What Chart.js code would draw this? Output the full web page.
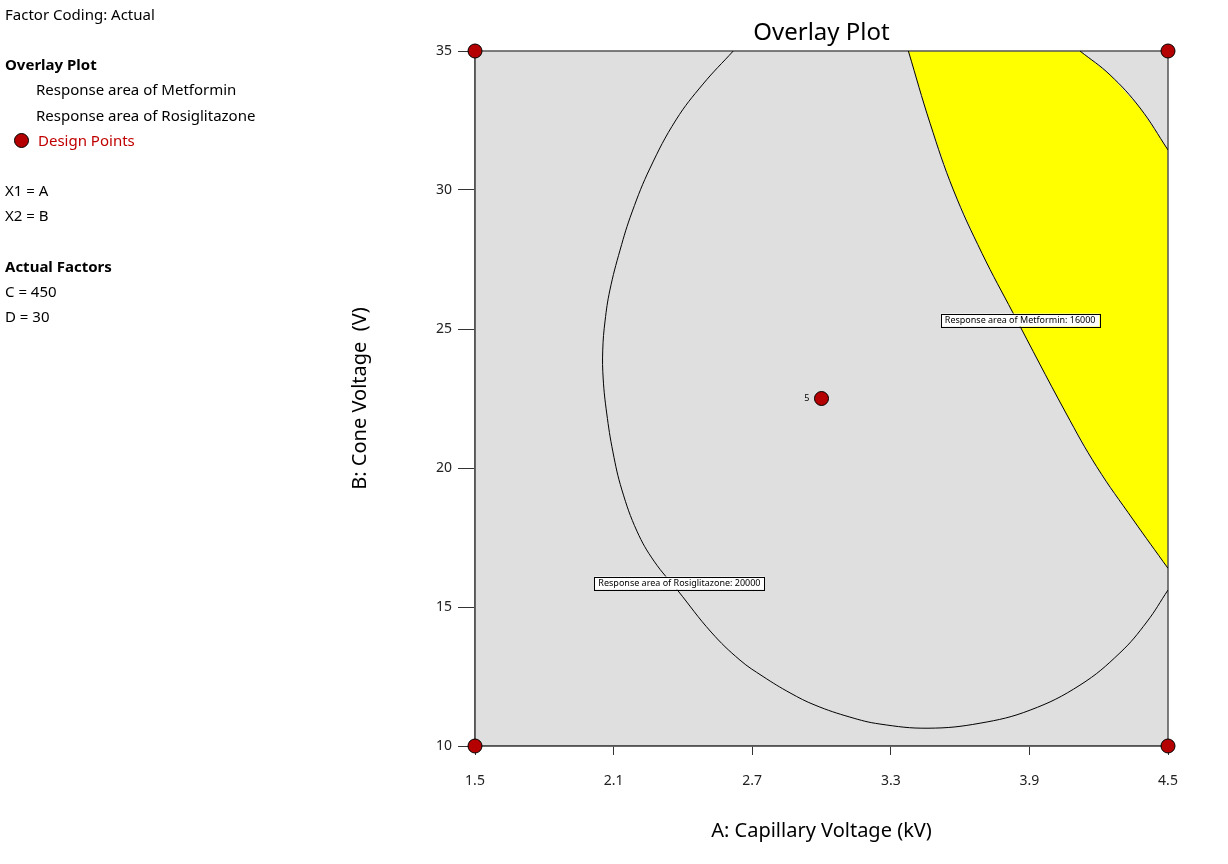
<!DOCTYPE html>
<html>
<head>
<meta charset="utf-8">
<script src="https://cdn.jsdelivr.net/npm/chart.js@4.4.1/dist/chart.umd.min.js"></script>
<style>
  html, body { margin: 0; padding: 0; background: #fff; }
  #wrap { position: relative; width: 1228px; height: 864px; }
  #plot { position: absolute; left: 0; top: 0; }
  #side { position: absolute; left: 5px; top: 2px; font-family: 'Noto Sans', sans-serif; font-size: 15px; line-height: 25.15px; color: #000; white-space: nowrap; }
  #side .b { font-weight: bold; }
  #side .ind { padding-left: 31px; }
  #side .red { color: #c00000; padding-left: 33px; position: relative; }
  #side .dot { position: absolute; left: 9px; top: 5px; width: 15px; height: 15px; border-radius: 50%; background: #b40000; border: 1px solid #000; box-sizing: border-box; }
  #side .gap { height: 25.15px; }
</style>
</head>
<body>
<div id="wrap">
  <canvas id="plot" width="1228" height="864"></canvas>
  <div id="side">
    <div>Factor Coding: Actual</div>
    <div class="gap"></div>
    <div class="b">Overlay Plot</div>
    <div class="ind">Response area of Metformin</div>
    <div class="ind">Response area of Rosiglitazone</div>
    <div class="red"><span class="dot"></span>Design Points</div>
    <div class="gap"></div>
    <div>X1 = A</div>
    <div>X2 = B</div>
    <div class="gap"></div>
    <div class="b">Actual Factors</div>
    <div>C = 450</div>
    <div>D = 30</div>
  </div>
</div>
<script>
var xTicks = [1.5, 2.1, 2.7, 3.3, 3.9, 4.5];
var yTicks = [10, 15, 20, 25, 30, 35];

// Rosiglitazone 20000 contour: left side, bottom, up to the right edge
var rosiX = [2.618, 2.487, 2.370, 2.258, 2.180, 2.128, 2.084, 2.063, 2.053, 2.055, 2.070, 2.097, 2.136, 2.201,
             2.275, 2.379, 2.522, 2.647, 2.747, 2.864, 2.972, 3.123, 3.253, 3.461, 3.686, 3.903, 4.119, 4.292, 4.408, 4.500];
var rosiY = [35.00, 33.81, 32.52, 30.79, 29.21, 27.84, 26.40, 25.29, 24.24, 23.20, 21.98, 20.58, 19.21, 17.73,
             16.65, 15.58, 14.10, 13.09, 12.50, 11.91, 11.47, 11.04, 10.79, 10.64, 10.82, 11.29, 12.19, 13.35, 14.46, 15.61];
// same contour, the piece in the top right corner
var rosiTopX = [4.119, 4.249, 4.379, 4.500];
var rosiTopY = [35.00, 34.14, 32.95, 31.44];
// Metformin 16000 contour
var metX = [3.376, 3.470, 3.571, 3.695, 3.829, 4.058, 4.191, 4.350, 4.500];
var metY = [35.00, 32.40, 30.00, 27.72, 25.58, 21.98, 20.05, 18.13, 16.39];

// design points and their run counts
var designX = [1.5, 4.5, 1.5, 4.5, 3.0];
var designY = [10, 10, 35, 35, 22.5];
var designRuns = [1, 1, 1, 1, 5];

var contourNames = ['Response area of Metformin: 16000', 'Response area of Rosiglitazone: 20000'];
var contourLabelX = [3.86, 2.385];
var contourLabelY = [25.32, 15.86];

function pts(xs, ys) {
    return xs.map(function (x, i) { return {x: x, y: ys[i]}; });
}

// yellow: right of Metformin contour and inside Rosiglitazone contour
var yellowPts = pts(metX, metY).concat(pts(rosiTopX, rosiTopY).reverse());

Chart.defaults.font.family = "'Noto Sans', sans-serif";
Chart.defaults.color = '#000';

var plotBg = {
    id: 'plotBg',
    beforeDraw: function (chart) {
        var a = chart.chartArea, ctx = chart.ctx;
        ctx.save();
        ctx.fillStyle = '#dfdfdf';
        ctx.fillRect(a.left, a.top, a.right - a.left, a.bottom - a.top);
        ctx.restore();
    },
    afterDatasetDraw: function (chart, args) {
        if (args.index !== 0) return;
        var a = chart.chartArea, ctx = chart.ctx;
        ctx.save();
        ctx.strokeStyle = '#555';
        ctx.lineWidth = 1.5;
        ctx.strokeRect(a.left, a.top, a.right - a.left, a.bottom - a.top);
        ctx.restore();
    }
};

var plotLabels = {
    id: 'plotLabels',
    afterDatasetsDraw: function (chart) {
        var ctx = chart.ctx, xs = chart.scales.x, ys = chart.scales.y;
        ctx.save();
        ctx.font = "9px 'Noto Sans', sans-serif";
        ctx.textBaseline = 'middle';
        ctx.fillStyle = '#000';
        ctx.textAlign = 'right';
        designRuns.forEach(function (n, i) {
            if (n > 1) ctx.fillText(String(n), xs.getPixelForValue(designX[i]) - 12, ys.getPixelForValue(designY[i]));
        });
        ctx.textAlign = 'center';
        contourNames.forEach(function (t, i) {
            var cx = xs.getPixelForValue(contourLabelX[i]);
            var cy = ys.getPixelForValue(contourLabelY[i]);
            var w = ctx.measureText(t).width + 8, h = 13;
            ctx.fillStyle = '#fff';
            ctx.fillRect(cx - w / 2, cy - h / 2, w, h);
            ctx.strokeStyle = '#000';
            ctx.lineWidth = 1;
            ctx.strokeRect(Math.round(cx - w / 2) + 0.5, Math.round(cy - h / 2) + 0.5, Math.round(w), h);
            ctx.fillStyle = '#000';
            ctx.fillText(t, cx, cy);
        });
        ctx.restore();
    }
};

new Chart(document.getElementById('plot'), {
    type: 'scatter',
    data: {
        datasets: [
            {
                label: 'Response area',
                data: yellowPts,
                showLine: true,
                fill: 'shape',
                backgroundColor: '#ffff00',
                borderWidth: 0,
                pointRadius: 0,
                tension: 0,
                order: 3
            },
            {
                label: 'Response area of Rosiglitazone',
                data: pts(rosiX, rosiY),
                showLine: true,
                borderColor: '#000',
                borderWidth: 1,
                pointRadius: 0,
                tension: 0.4,
                order: 2
            },
            {
                label: 'Response area of Rosiglitazone (corner)',
                data: pts(rosiTopX, rosiTopY),
                showLine: true,
                borderColor: '#000',
                borderWidth: 1,
                pointRadius: 0,
                tension: 0.4,
                order: 2
            },
            {
                label: 'Response area of Metformin',
                data: pts(metX, metY),
                showLine: true,
                borderColor: '#000',
                borderWidth: 1,
                pointRadius: 0,
                tension: 0.4,
                order: 2
            },
            {
                label: 'Design Points',
                data: pts(designX, designY),
                backgroundColor: '#b40000',
                borderColor: '#000',
                borderWidth: 1,
                pointRadius: 7,
                clip: false,
                order: 1
            }
        ]
    },
    options: {
        responsive: false,
        animation: false,
        layout: { padding: { left: 340, right: 60, top: 0, bottom: 0 } },
        plugins: {
            legend: { display: false },
            tooltip: { enabled: false },
            title: {
                display: true,
                text: 'Overlay Plot',
                fullSize: false,
                color: '#000',
                font: { size: 24, weight: 'normal' },
                padding: { top: 18.6, bottom: 3.6 }
            }
        },
        scales: {
            x: {
                type: 'linear',
                min: 1.5,
                max: 4.5,
                afterBuildTicks: function (s) { s.ticks = xTicks.map(function (v) { return {value: v}; }); },
                afterFit: function (s) { s.height = 118; },
                ticks: {
                    callback: function (v) { return v.toFixed(1); },
                    font: { size: 14 },
                    color: '#222',
                    padding: 18,
                    maxRotation: 0
                },
                grid: { drawOnChartArea: false, tickLength: 9, color: '#333' },
                border: { display: true, color: '#555', width: 1.5 },
                title: {
                    display: true,
                    text: 'A: Capillary Voltage (kV)',
                    color: '#000',
                    font: { size: 20 },
                    padding: { top: 0, bottom: 21 }
                }
            },
            y: {
                type: 'linear',
                min: 10,
                max: 35,
                afterBuildTicks: function (s) { s.ticks = yTicks.map(function (v) { return {value: v}; }); },
                afterFit: function (s) { s.width = 135; },
                ticks: {
                    font: { size: 14 },
                    color: '#222',
                    padding: 6
                },
                grid: { drawOnChartArea: false, tickLength: 17, color: '#333' },
                border: { display: true, color: '#555', width: 1.5 },
                title: {
                    display: true,
                    text: 'B: Cone Voltage  (V)',
                    color: '#000',
                    font: { size: 20 },
                    padding: { top: 8, bottom: 0 }
                }
            }
        }
    },
    plugins: [plotBg, plotLabels]
});
</script>
</body>
</html>
